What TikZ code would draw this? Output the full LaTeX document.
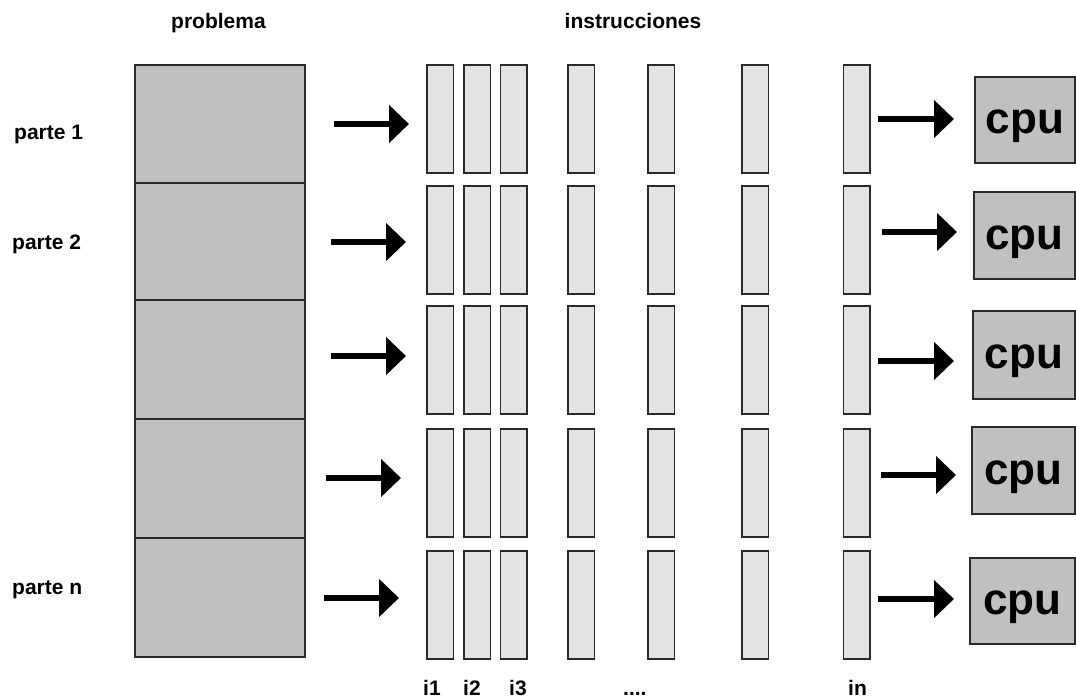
\documentclass[tikz,border=0pt]{standalone}
\usepackage{fontspec}
\setmainfont{Liberation Sans}
\usetikzlibrary{arrows.meta}
\definecolor{partfill}{HTML}{C0C0C0}
\definecolor{barfill}{HTML}{E3E3E3}
\definecolor{edge}{HTML}{2A2A2A}

\begin{document}
\begin{tikzpicture}[x=1pt,y=-1pt,
  box/.style={draw=edge,line width=1.6pt,inner sep=0pt,anchor=north west},
  part/.style={box,fill=partfill,minimum width=170pt},
  instr/.style={box,fill=barfill,minimum width=26.5pt,minimum height=108pt},
  cpubox/.style={box,fill=partfill,text height=28pt,text depth=0pt,
    font=\bfseries\fontsize{44}{48}\selectfont},
  flow/.style={line width=6pt,-{Triangle[length=20pt,width=37pt]}},
  lbl/.style={font=\bfseries\fontsize{21}{24}\selectfont,inner sep=0pt},
]
\useasboundingbox (0,0) rectangle (1076,700);

% headings
\node[lbl,anchor=base] (hprob) at (218.5,29) {problema};
\node[lbl,anchor=base] (hinst) at (633,29) {instrucciones};

% the problem, split into parts
\node[part,minimum height=118pt] (p1) at (134,64) {};
\node[part,minimum height=117pt] (p2) at (134,182) {};
\node[part,minimum height=119pt] (p3) at (134,299) {};
\node[part,minimum height=119pt] (p4) at (134,418) {};
\node[part,minimum height=119pt] (p5) at (134,537) {};

\node[lbl,anchor=base west] (l1) at (14,140) {parte 1};
\node[lbl,anchor=base west] (l2) at (12,250) {parte 2};
\node[lbl,anchor=base west] (ln) at (12,594) {parte n};

% instruction streams, one row per part
\foreach \r/\y in {1/64,2/185,3/305,4/428,5/550}
  \foreach \c/\x in {1/426,2/463,3/499.5,4/567,5/647,6/741,7/842.5}
    \node[instr] (b\r-\c) at (\x,\y) {};

\node[lbl,anchor=base west] (i1) at (423,695) {i1};
\node[lbl,anchor=base west] (i2) at (463,695) {i2};
\node[lbl,anchor=base west] (i3) at (509,695) {i3};
\node[lbl,anchor=base west] (idots) at (623,695) {....};
\node[lbl,anchor=base west] (in) at (848,695) {in};

% processors
\node[cpubox,minimum width=100pt,minimum height=86pt] (cpu1) at (974,76) {cpu};
\node[cpubox,minimum width=101pt,minimum height=87pt] (cpu2) at (973,191) {cpu};
\node[cpubox,minimum width=102pt,minimum height=88pt] (cpu3) at (972,310) {cpu};
\node[cpubox,minimum width=103pt,minimum height=87pt] (cpu4) at (971,426) {cpu};
\node[cpubox,minimum width=105pt,minimum height=86pt] (cpu5) at (969,557) {cpu};

% arrows: part -> instructions
\foreach \r/\xs/\xe/\y in {1/334/409/124,2/331/406/242,3/331/406/356,4/326/401/478,5/324/399/598}{
  \coordinate (ain\r) at (\xs,\y);
  \coordinate (aint\r) at (\xe,\y);
  \draw[flow] (ain\r) -- (aint\r);
}
% arrows: instructions -> cpu
\foreach \r/\xs/\xe/\y in {1/878/954/119,2/882/957/232,3/878/954/361,4/881/956/475,5/878/954/599}{
  \coordinate (aout\r) at (\xs,\y);
  \coordinate (aoutt\r) at (\xe,\y);
  \draw[flow] (aout\r) -- (aoutt\r);
}
\end{tikzpicture}
\end{document}
